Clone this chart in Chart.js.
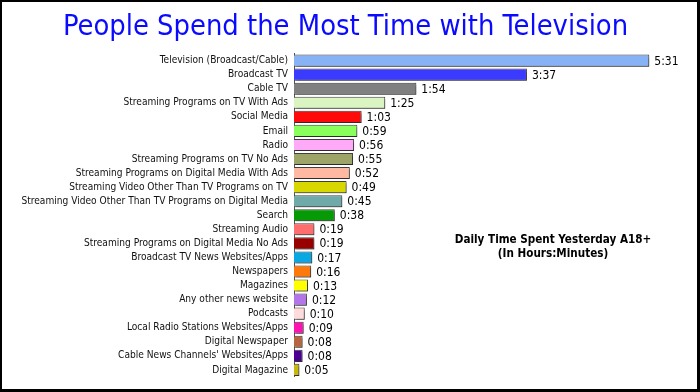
<!DOCTYPE html>
<html>
<head>
<meta charset="utf-8">
<script src="https://cdn.jsdelivr.net/npm/chart.js@4.4.1/dist/chart.umd.min.js"></script>
<style>
  html, body { margin: 0; padding: 0; background: #fff; }
  #frame {
    box-sizing: border-box;
    width: 700px;
    height: 392px;
    border: 2px solid #000;
    border-right-width: 3px;
    border-bottom-width: 3px;
    background: #fff;
  }
  #chart-wrap { position: relative; width: 695px; height: 387px; }
</style>
</head>
<body>
<div id="frame"><div id="chart-wrap"><canvas id="timeChart"></canvas></div></div>
<script>
const categories = [
  'Television (Broadcast/Cable)',
  'Broadcast TV',
  'Cable TV',
  'Streaming Programs on TV With Ads',
  'Social Media',
  'Email',
  'Radio',
  'Streaming Programs on TV No Ads',
  'Streaming Programs on Digital Media With Ads',
  'Streaming Video Other Than TV Programs on TV',
  'Streaming Video Other Than TV Programs on Digital Media',
  'Search',
  'Streaming Audio',
  'Streaming Programs on Digital Media No Ads',
  'Broadcast TV News Websites/Apps',
  'Newspapers',
  'Magazines',
  'Any other news website',
  'Podcasts',
  'Local Radio Stations Websites/Apps',
  'Digital Newspaper',
  "Cable News Channels' Websites/Apps",
  'Digital Magazine',
];

// minutes per day
const minutesSpent = [331, 217, 114, 85, 63, 59, 56, 55, 52, 49, 45, 38, 19, 19, 17, 16, 13, 12, 10, 9, 8, 8, 5];

const barColors = [
  '#88b2f6', '#3b3bff', '#808080', '#daf5c2', '#ff0a0a', '#88ff5a',
  '#ffaaf8', '#9ca468', '#ffb8a2', '#d8d800', '#70aaa8', '#069a06',
  '#ff6e6e', '#980000', '#0aa8e2', '#ff780a', '#ffff00', '#b474ea',
  '#ffdcdc', '#ff12b2', '#b8643e', '#4a0092', '#c8b80a',
];

const fmtTime = m => Math.floor(m / 60) + ':' + String(m % 60).padStart(2, '0');

const FONT = '"DejaVu Sans Condensed", "DejaVu Sans", sans-serif';

const barShadow = {
  id: 'barShadow',
  beforeDatasetDraw(chart) {
    const ctx = chart.ctx;
    ctx.save();
    ctx.shadowColor = 'rgba(0,0,0,0.35)';
    ctx.shadowOffsetX = 2;
    ctx.shadowOffsetY = 2;
    ctx.shadowBlur = 2;
  },
  afterDatasetDraw(chart) {
    chart.ctx.restore();
  },
};

const valueLabels = {
  id: 'valueLabels',
  afterDatasetsDraw(chart) {
    const ctx = chart.ctx;
    const meta = chart.getDatasetMeta(0);
    ctx.save();
    ctx.font = '12px ' + FONT;
    ctx.fillStyle = '#000';
    ctx.textAlign = 'left';
    ctx.textBaseline = 'middle';
    meta.data.forEach((bar, i) => {
      ctx.fillText(fmtTime(minutesSpent[i]), bar.x + 5, bar.y + 1);
    });
    ctx.restore();
  },
};

const noteText = {
  id: 'noteText',
  afterDraw(chart) {
    const ctx = chart.ctx;
    const area = chart.chartArea;
    ctx.save();
    ctx.font = 'bold 11.6px ' + FONT;
    ctx.fillStyle = '#000';
    ctx.textAlign = 'center';
    ctx.textBaseline = 'middle';
    const cx = area.left + 259;
    ctx.fillText('Daily Time Spent Yesterday A18+', cx, 238);
    ctx.fillText('(In Hours:Minutes)', cx, 252);
    ctx.restore();
  },
};

new Chart(document.getElementById('timeChart'), {
  type: 'bar',
  data: {
    labels: categories,
    datasets: [{
      data: minutesSpent,
      backgroundColor: barColors,
      borderColor: '#404040',
      borderWidth: 1,
      categoryPercentage: 0.86,
      barPercentage: 1,
    }],
  },
  options: {
    indexAxis: 'y',
    responsive: true,
    maintainAspectRatio: false,
    animation: false,
    layout: { padding: { top: 0, right: 8, bottom: 11, left: 0 } },
    plugins: {
      legend: { display: false },
      tooltip: { enabled: false },
      title: {
        display: true,
        text: 'People Spend the Most Time with Television',
        color: '#0a0aff',
        font: { family: FONT, size: 28.8, weight: 'normal' },
        padding: { top: 8, bottom: 9 },
      },
    },
    scales: {
      x: { display: false, min: 0, max: 368 },
      y: {
        grid: { display: false, drawTicks: false },
        border: { display: true, color: '#555', width: 1 },
        ticks: {
          color: '#111',
          padding: 6,
          autoSkip: false,
          font: { family: FONT, size: 10.1 },
        },
        afterFit(scale) { scale.width = 292; },
      },
    },
  },
  plugins: [barShadow, valueLabels, noteText],
});
</script>
</body>
</html>
